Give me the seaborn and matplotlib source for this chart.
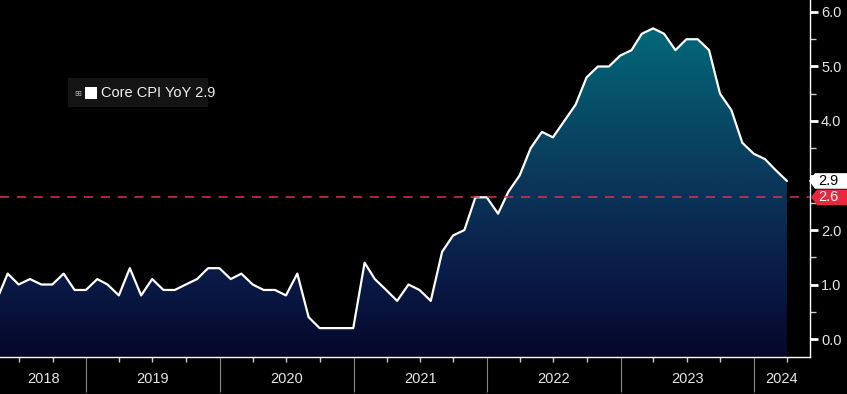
import numpy as np
import pandas as pd
import matplotlib
matplotlib.use("Agg")
import matplotlib.pyplot as plt
import matplotlib.dates as mdates
from matplotlib.colors import LinearSegmentedColormap
from matplotlib.patches import Polygon
from matplotlib.transforms import blended_transform_factory
import seaborn as sns

# ---- data (monthly, month-end) ----
start_month = "2018-04"
values = [0.7,
          1.2, 1.0, 1.1, 1.0, 1.0, 1.2, 0.9, 0.9,                     # May-Dec 2018
          1.1, 1.0, 0.8, 1.3, 0.8, 1.1, 0.9, 0.9, 1.0, 1.1, 1.3, 1.3,  # 2019
          1.1, 1.2, 1.0, 0.9, 0.9, 0.8, 1.2, 0.4, 0.2, 0.2, 0.2, 0.2,  # 2020
          1.4, 1.1, 0.9, 0.7, 1.0, 0.9, 0.7, 1.6, 1.9, 2.0, 2.6, 2.6,  # 2021
          2.3, 2.7, 3.0, 3.5, 3.8, 3.7, 4.0, 4.3, 4.8, 5.0, 5.0, 5.2,  # 2022
          5.3, 5.6, 5.7, 5.6, 5.3, 5.5, 5.5, 5.3, 4.5, 4.2, 3.6, 3.4,  # 2023
          3.3, 3.1, 2.9]                                              # 2024
series_name = "Core CPI YoY"
last_value = 2.9
ref_level = 2.6
year_labels = ["2018", "2019", "2020", "2021", "2022", "2023", "2024"]
y_ticks = [0.0, 1.0, 2.0, 3.0, 4.0, 5.0, 6.0]
hidden_tick = 3.0   # covered by the last-value tag in the original

dates = pd.date_range(start=start_month, periods=len(values), freq="ME")
df = pd.DataFrame({"date": dates, "value": values})

# ---- figure ----
sns.set_theme(style="dark")
plt.rcParams["font.family"] = ["Liberation Sans Narrow", "Liberation Sans", "DejaVu Sans"]

W, H = 847, 394
fig = plt.figure(figsize=(W / 100, H / 100), dpi=100, facecolor="black")
ax = fig.add_axes([0.0, 37 / H, 810 / W, 357 / H])
ax.set_facecolor("black")

xmin = pd.Timestamp("2018-05-10")
xmax = pd.Timestamp("2024-06-02")
ymin, ymax = -0.33, 6.22
ax.set_xlim(xmin, xmax)
ax.set_ylim(ymin, ymax)
units_per_px = (ymax - ymin) / 357

# gradient fill under the line
xnum = mdates.date2num(df["date"])
cmap = LinearSegmentedColormap.from_list(
    "g", [(0.0, "#06072b"), (0.25, "#0a1d4a"), (0.55, "#0a3d5e"), (1.0, "#00717f")])
grad = np.linspace(0, 1, 256).reshape(-1, 1)
im = ax.imshow(grad, cmap=cmap, aspect="auto", origin="lower",
               extent=[mdates.date2num(xmin), mdates.date2num(xmax), ymin, ymax], zorder=1)
poly = ax.fill_between(xnum, ymin, df["value"], facecolor="none", edgecolor="none")
path = poly.get_paths()[0]
im.set_clip_path(path, transform=ax.transData)

sns.lineplot(data=df, x="date", y="value", ax=ax, color="white", linewidth=1.6, zorder=3, legend=False)

# reference line
ax.axhline(ref_level, color="#e0304f", linestyle=(0, (6, 5)), linewidth=1.1, zorder=4)

# ---- axes styling ----
for s in ["top", "left"]:
    ax.spines[s].set_visible(False)
for s in ["right", "bottom"]:
    ax.spines[s].set_color("white")
    ax.spines[s].set_linewidth(1.0)
    ax.spines[s].set_visible(True)
ax.grid(False)
ax.set_xlabel("")
ax.set_ylabel("")

# y axis on the right
ax.yaxis.tick_right()
ax.set_yticks(y_ticks)
ax.set_yticklabels(["" if t == hidden_tick else f"{t:.1f}" for t in y_ticks])
ax.set_yticks(np.arange(0.5, 6.0, 1.0), minor=True)
ax.tick_params(axis="y", which="major", direction="out", length=6, width=2.0, color="white",
               labelcolor="#e6e6e6", labelsize=10.5, pad=2, right=True, left=False)
ax.tick_params(axis="y", which="minor", direction="out", length=4, width=1.0, color="#cccccc",
               right=True, left=False)

# x axis: year separators (major) and quarterly ticks (minor)
year_starts = [pd.Timestamp(f"{y}-01-01") for y in range(2019, 2025)]
ax.set_xticks(year_starts)
ax.set_xticklabels([""] * len(year_starts))
quarters = [d for d in pd.date_range("2018-04-01", "2024-06-01", freq="QS")
            if d not in year_starts and xmin <= d <= xmax]
ax.set_xticks(quarters, minor=True)
ax.tick_params(axis="x", which="major", direction="out", length=25, width=0.8, color="#888888",
               bottom=True)
ax.tick_params(axis="x", which="minor", direction="out", length=3.5, width=1.0, color="#cccccc",
               bottom=True)

# year labels centred in the visible part of each year
bounds = [xmin] + year_starts + [xmax]
for i, lab in enumerate(year_labels):
    a, b = mdates.date2num(bounds[i]), mdates.date2num(bounds[i + 1])
    ax.text((a + b) / 2, -22 / 357, lab, transform=ax.get_xaxis_transform(),
            ha="center", va="center", color="#e6e6e6", fontsize=10.5, clip_on=False)

# right-side value tags (arrow-shaped boxes)
tr = blended_transform_factory(fig.transFigure, ax.transData)


def tag(level, face, txt_color, x_tip, half_h_px):
    hh = half_h_px * units_per_px
    pts = [(x_tip / W, level), ((x_tip + 6) / W, level + hh), (1.0, level + hh),
           (1.0, level - hh), ((x_tip + 6) / W, level - hh)]
    p = Polygon(pts, closed=True, transform=tr, facecolor=face, edgecolor="none",
                zorder=10, clip_on=False)
    ax.add_artist(p)
    ax.text(818 / W, level, f"{level:.1f}", transform=tr, ha="left", va="center",
            color=txt_color, fontsize=10.5, zorder=11, clip_on=False)


tag(last_value, "white", "black", 809, 7.8)
tag(ref_level, "#e8283c", "white", 811, 7.8)

# legend box
fig.patches.append(plt.Rectangle((68 / W, 1 - 107 / H), 140 / W, 29 / H,
                                 transform=fig.transFigure, facecolor="#141414",
                                 edgecolor="none", zorder=5))
fig.text(78 / W, 1 - 93 / H, "⊞", color="#aaaaaa", fontsize=6, ha="center", va="center",
         family=["DejaVu Sans"], zorder=6)
fig.patches.append(plt.Rectangle((85 / W, 1 - 99 / H), 12 / W, 12 / H,
                                 transform=fig.transFigure, facecolor="white",
                                 edgecolor="none", zorder=6))
fig.text(101 / W, 1 - 93 / H, f"{series_name} {last_value:.1f}", color="#f0f0f0",
         fontsize=10.5, ha="left", va="center", zorder=6)

fig.savefig("out.png", dpi=100, facecolor="black")
